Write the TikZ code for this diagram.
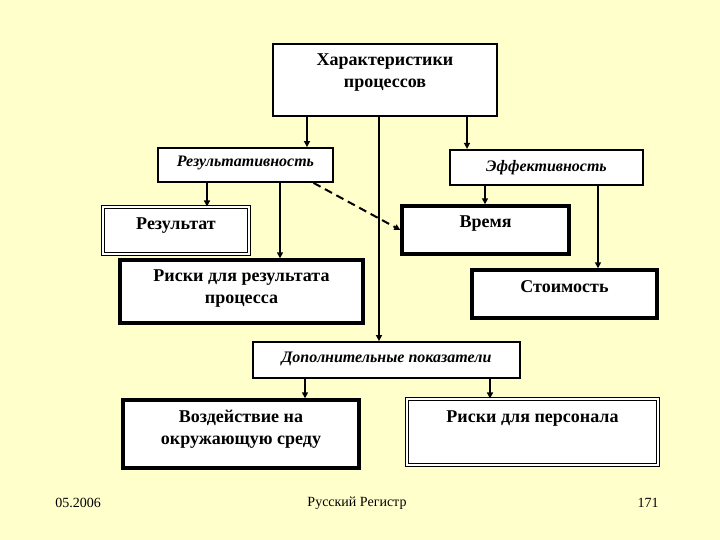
\documentclass[tikz,border=0pt]{standalone}
\usepackage{fontspec}
\setmainfont{Liberation Serif}
\usetikzlibrary{positioning,arrows.meta}
\definecolor{slidebg}{RGB}{255,255,204}

\tikzset{
  box/.style={draw, fill=white, line width=1.8pt, inner sep=0pt},
  thickbox/.style={box, line width=3.4pt},
  dblbox/.style={box, double, double distance=1.2pt, line width=1.1pt},
  txt/.style={anchor=north, align=center, inner sep=0pt, font=\bfseries\fontsize{18}{22}\selectfont},
  itxt/.style={txt, font=\bfseries\itshape\fontsize{16}{19}\selectfont},
  arr/.style={line width=2pt, -{Triangle[length=6pt,width=6pt]}},
  foot/.style={font=\fontsize{14}{16}\selectfont}
}

\begin{document}
\begin{tikzpicture}[x=1pt, y=-1pt]
    \fill[slidebg] (0,0) rectangle (720,540);
    \useasboundingbox (0,0) rectangle (720,540);

    \node[box, line width=2.2pt, minimum width=224pt, minimum height=72pt] (char) at (385,80) {};
    \node[txt, below=11pt of char.north] (charT) {Характеристики\\процессов};

    \node[box, minimum width=175pt, minimum height=34pt] (resv) at (245.5,165) {};
    \node[itxt, below=9pt of resv.north] (resvT) {Результативность};

    \node[box, line width=2.2pt, minimum width=193pt, minimum height=35pt] (eff) at (546.5,167.5) {};
    \node[itxt, below=11pt of eff.north] (effT) {Эффективность};

    \node[dblbox, minimum width=146pt, minimum height=47pt] (result) at (176,230.5) {};
    \node[txt, below=11pt of result.north] (resultT) {Результат};

    \node[thickbox, minimum width=167pt, minimum height=48pt] (time) at (485.5,230) {};
    \node[txt, below=11pt of time.north] (timeT) {Время};

    \node[thickbox, minimum width=243pt, minimum height=63pt] (risk) at (241.5,291.5) {};
    \node[txt, below=11pt of risk.north] (riskT) {Риски для результата\\процесса};

    \node[thickbox, minimum width=185pt, minimum height=48pt] (cost) at (564.5,294) {};
    \node[txt, below=12pt of cost.north] (costT) {Стоимость};

    \node[box, minimum width=267pt, minimum height=36pt] (extra) at (386.5,360) {};
    \node[itxt, below=11pt of extra.north] (extraT) {Дополнительные показатели};

    \node[thickbox, minimum width=236pt, minimum height=68pt] (env) at (241,434) {};
    \node[txt, below=12pt of env.north] (envT) {Воздействие на\\окружающую среду};

    \node[dblbox, minimum width=251pt, minimum height=66pt] (staff) at (532.5,432) {};
    \node[txt, below=12pt of staff.north] (staffT) {Риски для персонала};

    \draw[arr] ([xshift=-78pt]char.south) -- ([xshift=-78pt]char.south |- resv.north);
    \draw[arr] ([xshift=-6pt]char.south) -- ([xshift=-6pt]char.south |- extra.north);
    \draw[arr] ([xshift=82pt]char.south) -- ([xshift=82pt]char.south |- eff.north);
    \draw[arr] ([xshift=-38.5pt]resv.south) -- ([xshift=-38.5pt]resv.south |- result.north);
    \draw[arr] ([xshift=34.5pt]resv.south) -- ([xshift=34.5pt]resv.south |- risk.north);
    \draw[arr, dash pattern=on 8pt off 5pt] ([xshift=68pt]resv.south) -- (time.west);
    \draw[arr] ([xshift=-61.5pt]eff.south) -- ([xshift=-61.5pt]eff.south |- time.north);
    \draw[arr] ([xshift=51.5pt]eff.south) -- ([xshift=51.5pt]eff.south |- cost.north);
    \draw[arr] ([xshift=-81.5pt]extra.south) -- ([xshift=-81.5pt]extra.south |- env.north);
    \draw[arr] ([xshift=103.5pt]extra.south) -- ([xshift=103.5pt]extra.south |- staff.north);

    \node[foot] (date) at (78,503) {05.2006};
    \node[foot] (org) at (357,503) {Русский Регистр};
    \node[foot] (page) at (648,503) {171};
\end{tikzpicture}
\end{document}
